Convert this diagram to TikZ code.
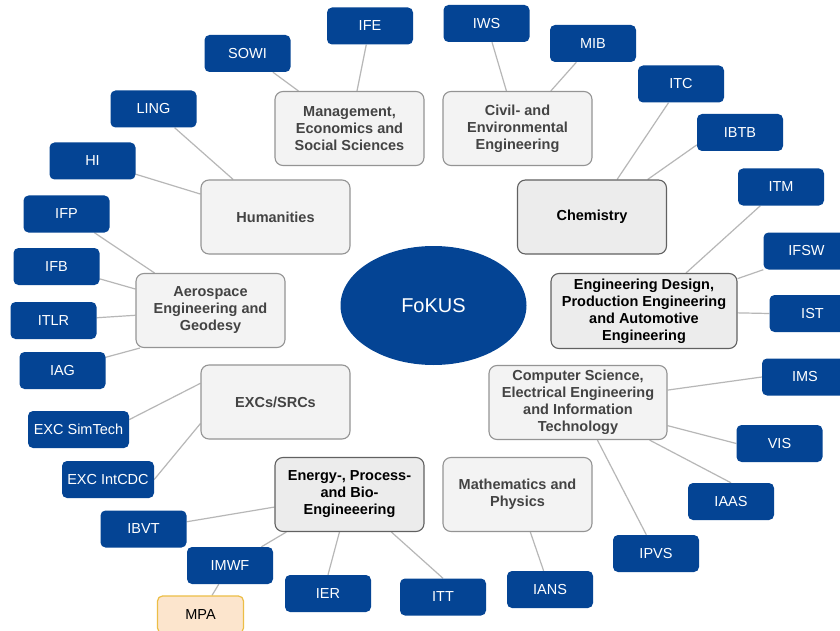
\documentclass[tikz,border=0pt]{standalone}
\usepackage{fontspec}
\setmainfont{Liberation Sans}
\usetikzlibrary{shapes.geometric,backgrounds}
\definecolor{fblue}{RGB}{4,68,148}
\definecolor{gfill}{RGB}{243,243,243}
\definecolor{gdark}{RGB}{236,236,236}
\definecolor{gtext}{RGB}{67,67,67}
\definecolor{lnk}{RGB}{183,183,183}
\definecolor{mpafill}{RGB}{252,229,205}
\definecolor{mpaline}{RGB}{236,190,70}
\begin{document}
\begin{tikzpicture}[x=1pt,y=-1pt,
  inst/.style={fill=fblue, text=white, rounded corners=5pt, minimum width=86pt, minimum height=37pt, inner sep=0pt, font=\fontsize{14.5}{17}\selectfont},
  fac/.style={draw=black!42, line width=1.1pt, fill=gfill, text=gtext, rounded corners=8pt, minimum width=149pt, minimum height=74pt, inner sep=0pt, align=center, font=\fontsize{14.5}{17}\selectfont\bfseries},
  facdark/.style={fac, draw=black!62, fill=gdark, text=black},
  conn/.style={draw=lnk, line width=1.2pt},
  hub/.style={ellipse, fill=fblue, text=white, minimum width=186pt, minimum height=119pt, inner sep=0pt, font=\fontsize{20}{24}\selectfont}
]
\useasboundingbox (0,0) rectangle (840,631);

% centre
\node[hub] (fokus) at (433.5,305.5) {FoKUS};

% faculties
\node[fac] (mgmt) at (349.5,128.5) {Management,\\Economics and\\Social Sciences};
\node[fac] (civil) at (517.5,128.5) {Civil- and\\Environmental\\Engineering};
\node[fac] (hum) at (275.5,217) {Humanities};
\node[facdark] (chem) at (592,217) {Chemistry};
\node[fac] (aero) at (210.5,310.5) {Aerospace\\Engineering and\\Geodesy};
\node[facdark, minimum width=186pt, minimum height=75pt] (engd) at (644,311) {Engineering Design,\\Production Engineering\\and Automotive\\Engineering};
\node[fac] (excs) at (275.5,402) {EXCs/SRCs};
\node[fac, minimum width=178pt] (cs) at (578,402.5) {Computer Science,\\Electrical Engineering\\and Information\\Technology};
\node[facdark] (energy) at (349.5,494.5) {Energy-, Process-\\and Bio-\\Engineeering};
\node[fac] (math) at (517.5,494.5) {Mathematics and\\Physics};

% institutes
\node[inst] (ife) at (370,26) {IFE};
\node[inst] (sowi) at (247.5,53.5) {SOWI};
\node[inst] (ling) at (153.5,109) {LING};
\node[inst] (hi) at (92.5,161) {HI};
\node[inst] (ifp) at (66.5,214) {IFP};
\node[inst] (ifb) at (56.5,266.5) {IFB};
\node[inst] (itlr) at (53.5,320.5) {ITLR};
\node[inst] (iag) at (62.5,370.5) {IAG};
\node[inst, minimum width=101pt] (simtech) at (78.5,429.5) {EXC SimTech};
\node[inst, minimum width=92pt] (intcdc) at (108,479.5) {EXC IntCDC};
\node[inst] (ibvt) at (143.5,529) {IBVT};
\node[inst] (imwf) at (230,565.5) {IMWF};
\node[inst, fill=mpafill, draw=mpaline, line width=1.2pt, text=black] (mpa) at (200.5,614.5) {MPA};
\node[inst] (ier) at (328,593.5) {IER};
\node[inst] (itt) at (443,597) {ITT};
\node[inst] (ians) at (550,589.5) {IANS};
\node[inst] (ipvs) at (656,553.5) {IPVS};
\node[inst] (iaas) at (731,501.5) {IAAS};
\node[inst] (vis) at (779.5,443.5) {VIS};
\node[inst] (ims) at (805,377) {IMS};
\node[inst] (ist) at (812.5,313.5) {IST};
\node[inst] (ifsw) at (806.5,251) {IFSW};
\node[inst] (itm) at (781,187) {ITM};
\node[inst] (ibtb) at (740,132.5) {IBTB};
\node[inst] (itc) at (681,84) {ITC};
\node[inst] (mib) at (593,43.5) {MIB};
\node[inst] (iws) at (486.5,23.5) {IWS};

% connectors
\begin{scope}[on background layer]
\fill[white] (0,0) rectangle (840,631);
\draw[conn] (mgmt) -- (sowi);
\draw[conn] (mgmt) -- (ife);
\draw[conn] (civil) -- (iws);
\draw[conn] (civil) -- (mib);
\draw[conn] (hum) -- (ling);
\draw[conn] (hum) -- (hi);
\draw[conn] (chem) -- (itc);
\draw[conn] (chem.34) -- (ibtb.196);
\draw[conn] (aero) -- (ifp);
\draw[conn] (aero) -- (ifb);
\draw[conn] (aero) -- (itlr);
\draw[conn] (aero.208) -- (iag.17);
\draw[conn] (excs.166) -- (simtech.11);
\draw[conn] (excs.196) -- (intcdc.east);
\draw[conn] (engd) -- (itm);
\draw[conn] (engd) -- (ifsw.south west);
\draw[conn] (engd) -- (ist.west);
\draw[conn] (cs) -- (ims.west);
\draw[conn] (cs) -- (vis.west);
\draw[conn] (cs) -- (iaas.north);
\draw[conn] (cs) -- (ipvs);
\draw[conn] (math) -- (ians);
\draw[conn] (energy) -- (ibvt);
\draw[conn] (energy) -- (imwf);
\draw[conn] (energy) -- (ier.north);
\draw[conn] (energy) -- (itt.north);
\draw[conn] (imwf) -- (mpa);
\end{scope}
\end{tikzpicture}
\end{document}
